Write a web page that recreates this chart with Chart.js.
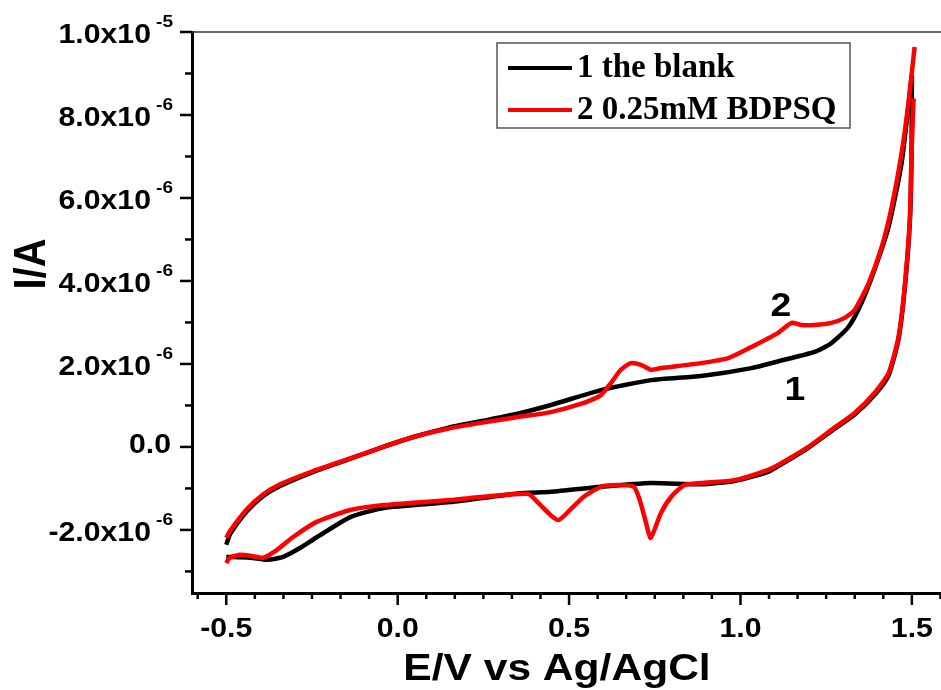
<!DOCTYPE html>
<html>
<head>
<meta charset="utf-8">
<script src="https://cdn.jsdelivr.net/npm/chart.js@4.4.1/dist/chart.umd.min.js"></script>
<style>
  html, body { margin: 0; padding: 0; background: #fff; }
  #wrap { width: 941px; height: 690px; }
</style>
</head>
<body>
<div id="wrap"><canvas id="cv" width="941" height="690"></canvas></div>
<script>
// potentials in V vs Ag/AgCl, currents in units of 1e-6 A

// 1 the blank - anodic sweep (upper branch)
const blankFwdE = [-0.5, -0.489, -0.44, -0.392, -0.343, -0.246, -0.147, -0.05, 0.046, 0.146, 0.242, 0.35, 0.447, 0.593, 0.739, 0.885, 1.032, 1.128, 1.216, 1.265, 1.315, 1.353, 1.391, 1.432, 1.47, 1.5];
const blankFwdI = [-2.36, -2.1, -1.55, -1.18, -0.94, -0.6, -0.31, -0.02, 0.24, 0.46, 0.62, 0.8, 1.01, 1.37, 1.61, 1.71, 1.9, 2.1, 2.29, 2.5, 2.89, 3.47, 4.27, 5.3, 6.84, 8.95];
// 1 the blank - cathodic sweep (lower branch)
const blankRevE = [1.5, 1.499, 1.494, 1.479, 1.461, 1.432, 1.391, 1.333, 1.265, 1.198, 1.119, 1.081, 0.982, 0.885, 0.739, 0.593, 0.447, 0.35, 0.154, -0.04, -0.138, -0.235, -0.284, -0.334, -0.38, -0.43, -0.5];
const blankRevI = [8.95, 7.0, 5.4, 3.8, 2.6, 1.72, 1.25, 0.78, 0.38, -0.02, -0.42, -0.6, -0.82, -0.9, -0.87, -0.96, -1.08, -1.12, -1.33, -1.47, -1.69, -2.17, -2.43, -2.65, -2.72, -2.67, -2.65];

// 2 0.25mM BDPSQ - anodic sweep
const bdpsqFwdE = [-0.5, -0.489, -0.44, -0.392, -0.343, -0.246, -0.147, -0.05, 0.046, 0.146, 0.242, 0.35, 0.447, 0.543, 0.593, 0.622, 0.651, 0.68, 0.71, 0.739, 0.768, 0.885, 0.964, 1.032, 1.11, 1.149, 1.178, 1.216, 1.265, 1.304, 1.333, 1.374, 1.412, 1.441, 1.47, 1.49, 1.508];
const bdpsqFwdI = [-2.19, -2.02, -1.5, -1.14, -0.9, -0.58, -0.3, -0.02, 0.24, 0.44, 0.58, 0.72, 0.84, 1.06, 1.25, 1.54, 1.86, 2.02, 1.98, 1.86, 1.9, 2.02, 2.14, 2.41, 2.75, 2.99, 2.94, 2.94, 2.99, 3.11, 3.3, 3.95, 4.82, 5.78, 7.08, 8.29, 9.64];
// 2 0.25mM BDPSQ - cathodic sweep
const bdpsqRevE = [1.505, 1.499, 1.494, 1.479, 1.461, 1.432, 1.391, 1.333, 1.265, 1.198, 1.119, 1.081, 0.982, 0.885, 0.836, 0.798, 0.768, 0.749, 0.737, 0.722, 0.705, 0.689, 0.643, 0.593, 0.543, 0.505, 0.47, 0.447, 0.41, 0.38, 0.25, 0.154, -0.04, -0.138, -0.235, -0.305, -0.352, -0.392, -0.43, -0.46, -0.49, -0.5];
const bdpsqRevI = [8.4, 7.08, 5.47, 3.86, 2.65, 1.78, 1.3, 0.82, 0.41, 0.0, -0.39, -0.55, -0.8, -0.87, -0.92, -1.2, -1.59, -2.0, -2.19, -1.75, -1.25, -0.96, -0.92, -0.96, -1.2, -1.5, -1.76, -1.65, -1.35, -1.13, -1.2, -1.28, -1.4, -1.52, -1.8, -2.17, -2.48, -2.67, -2.62, -2.6, -2.67, -2.8];

// axis ticks
const xMajorTicks = [-0.5, 0.0, 0.5, 1.0, 1.5];
const xTickLabels = ['-0.5', '0.0', '0.5', '1.0', '1.5'];
const yMajorTicks = [-2, 0, 2, 4, 6, 8, 10];
const yTickMantissa = ['-2.0x10', '0.0', '2.0x10', '4.0x10', '6.0x10', '8.0x10', '1.0x10'];
const yTickExponent = ['-6', '', '-6', '-6', '-6', '-6', '-5'];

const seriesLabels = ['1 the blank', '2 0.25mM BDPSQ'];
const seriesColors = ['#000000', '#ff0000'];

function toPoints(xs, ys) {
    return xs.map((x, i) => ({ x: x, y: ys[i] }));
}

const SANS = '"Liberation Sans", Arial, sans-serif';
const SERIF = '"Liberation Serif", "Times New Roman", serif';

function stretchText(ctx, txt, x, y, align, sx) {
    ctx.save();
    ctx.translate(x, y);
    ctx.scale(sx, 1);
    ctx.textAlign = align;
    ctx.textBaseline = 'alphabetic';
    ctx.fillText(txt, 0, 0);
    ctx.restore();
}

const decorPlugin = {
    id: 'decor',
    afterDraw(chart) {
        const ctx = chart.ctx;
        const xs = chart.scales.x, ys = chart.scales.y;
        const area = chart.chartArea;
        ctx.save();
        ctx.fillStyle = '#000';
        ctx.strokeStyle = '#000';

        // top frame line
        ctx.lineWidth = 1.5;
        ctx.strokeStyle = '#333';
        ctx.beginPath();
        ctx.moveTo(area.left, area.top);
        ctx.lineTo(area.right, area.top);
        ctx.stroke();

        // ticks
        ctx.strokeStyle = '#000';
        ctx.lineWidth = 2.5;
        xs.ticks.forEach(t => {
            const px = xs.getPixelForValue(t.value);
            const major = xMajorTicks.some(m => Math.abs(m - t.value) < 1e-6);
            ctx.beginPath();
            ctx.moveTo(px, area.bottom);
            ctx.lineTo(px, area.bottom + (major ? 12 : 6));
            ctx.stroke();
        });
        ys.ticks.forEach(t => {
            const py = ys.getPixelForValue(t.value);
            const major = yMajorTicks.some(m => Math.abs(m - t.value) < 1e-6);
            ctx.beginPath();
            ctx.moveTo(area.left, py);
            ctx.lineTo(area.left - (major ? 12 : 7), py);
            ctx.stroke();
        });

        // tick labels
        ctx.font = 'bold 27px ' + SANS;
        xMajorTicks.forEach((v, i) => {
            stretchText(ctx, xTickLabels[i], xs.getPixelForValue(v), area.bottom + 44, 'center', 1.12);
        });
        yMajorTicks.forEach((v, i) => {
            const py = ys.getPixelForValue(v);
            ctx.font = 'bold 27px ' + SANS;
            if (yTickExponent[i]) {
                stretchText(ctx, yTickMantissa[i], area.left - 41, py + 11, 'right', 1.12);
                ctx.font = 'bold 17px ' + SANS;
                stretchText(ctx, yTickExponent[i], area.left - 19, py - 5, 'right', 1.12);
            } else {
                stretchText(ctx, yTickMantissa[i], area.left - 21, py + 6, 'right', 1.12);
            }
        });

        // axis titles
        ctx.font = 'bold 37px ' + SANS;
        stretchText(ctx, 'E/V vs Ag/AgCl', 557, 680, 'center', 1.15);
        ctx.save();
        ctx.translate(45, 264);
        ctx.rotate(-Math.PI / 2);
        ctx.scale(1, 1.1);
        ctx.font = 'bold 40px ' + SANS;
        ctx.textAlign = 'center';
        ctx.textBaseline = 'alphabetic';
        ctx.fillText('I/A', 0, 0);
        ctx.restore();

        // curve numbers
        ctx.font = 'bold 34px ' + SANS;
        stretchText(ctx, '2', 781, 316, 'center', 1.1);
        stretchText(ctx, '1', 795, 400, 'center', 1.1);

        // legend
        ctx.fillStyle = '#fff';
        ctx.fillRect(497, 43, 353, 85);
        ctx.strokeStyle = '#555';
        ctx.lineWidth = 1.5;
        ctx.strokeRect(497, 43, 353, 85);
        const rows = [68, 110];
        seriesLabels.forEach((lab, i) => {
            ctx.strokeStyle = seriesColors[i];
            ctx.lineWidth = 4;
            ctx.beginPath();
            ctx.moveTo(508, rows[i]);
            ctx.lineTo(572, rows[i]);
            ctx.stroke();
            ctx.fillStyle = '#000';
            ctx.font = 'bold 33px ' + SERIF;
            stretchText(ctx, lab, 577, rows[i] + 9, 'left', 1.0);
        });
        ctx.restore();
    }
};

const datasets = [
    { label: seriesLabels[1], data: toPoints(bdpsqFwdE, bdpsqFwdI), borderColor: seriesColors[1], order: 0 },
    { label: seriesLabels[1], data: toPoints(bdpsqRevE, bdpsqRevI), borderColor: seriesColors[1], order: 0 },
    { label: seriesLabels[0], data: toPoints(blankFwdE, blankFwdI), borderColor: seriesColors[0], order: 1 },
    { label: seriesLabels[0], data: toPoints(blankRevE, blankRevI), borderColor: seriesColors[0], order: 1 }
].map(d => Object.assign(d, {
    showLine: true,
    pointRadius: 0,
    borderWidth: 4.5,
    tension: 0.2,
    fill: false
}));

new Chart(document.getElementById('cv').getContext('2d'), {
    type: 'scatter',
    data: { datasets: datasets },
    options: {
        responsive: false,
        animation: false,
        devicePixelRatio: 1,
        layout: { padding: { left: 192, top: 32, right: 0, bottom: 97 } },
        plugins: { legend: { display: false }, tooltip: { enabled: false } },
        scales: {
            x: {
                type: 'linear',
                min: -0.6,
                max: 1.585,
                afterFit: s => { s.height = 0; },
                afterBuildTicks: s => {
                    const t = [];
                    for (let k = -7; k <= 19; k++) t.push({ value: k * 0.5 / 6 });
                    s.ticks = t;
                },
                grid: { display: false },
                ticks: { display: false },
                border: { display: true, color: '#000', width: 3 }
            },
            y: {
                type: 'linear',
                min: -3.52,
                max: 10,
                afterFit: s => { s.width = 0; },
                afterBuildTicks: s => {
                    const t = [];
                    for (let k = -3; k <= 10; k++) t.push({ value: k });
                    s.ticks = t;
                },
                grid: { display: false },
                ticks: { display: false },
                border: { display: true, color: '#000', width: 3 }
            }
        }
    },
    plugins: [decorPlugin]
});
</script>
</body>
</html>
